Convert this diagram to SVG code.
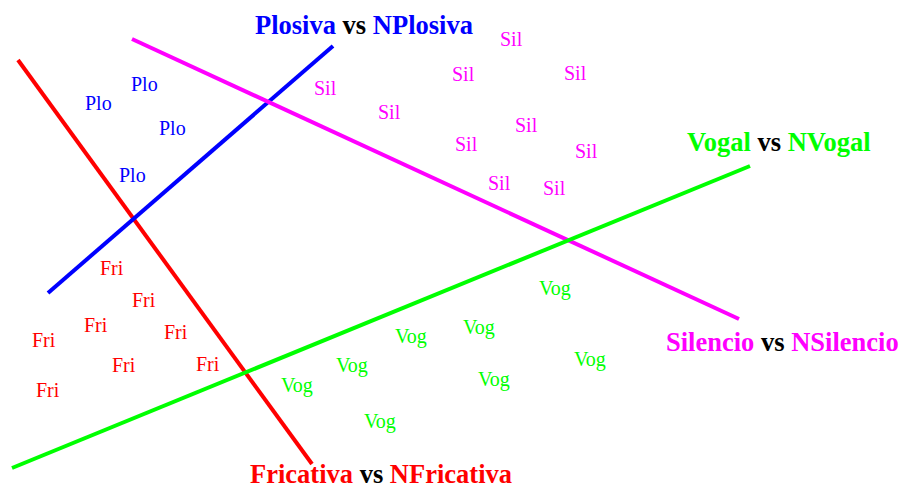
<svg xmlns="http://www.w3.org/2000/svg" width="899" height="486" viewBox="0 0 899 486">
  <style>
    text { font-family: "Liberation Serif", "Times New Roman", serif; }
    .pt { font-size: 20px; }
    .title { font-size: 26.5px; font-weight: bold; }
    .div { fill: none; stroke-width: 4; }
    .fri { fill: #ff0000; }
    .plo { fill: #0000ff; }
    .sil { fill: #ff00ff; }
    .vog { fill: #00ff00; }
    .k { fill: #000000; }
  </style>
  <rect width="899" height="486" fill="#ffffff"/>

  <!-- decision boundaries -->
  <g id="boundaries">
    <line id="line-fricativa" class="div" stroke="#ff0000" x1="18" y1="60" x2="312" y2="464"/>
    <line id="line-plosiva" class="div" stroke="#0000ff" x1="48" y1="293" x2="333" y2="46"/>
    <line id="line-silencio" class="div" stroke="#ff00ff" x1="132" y1="39" x2="739" y2="319"/>
    <line id="line-vogal" class="div" stroke="#00ff00" x1="12" y1="468" x2="750" y2="166"/>
  </g>

  <!-- boundary labels -->
  <g id="title-plosiva" class="title">
    <text x="255" y="34"><tspan class="plo">Plosiva</tspan><tspan class="k"> vs </tspan><tspan class="plo">NPlosiva</tspan></text>
  </g>
  <g id="title-vogal" class="title">
    <text x="687" y="151"><tspan class="vog">Vogal</tspan><tspan class="k"> vs </tspan><tspan class="vog">NVogal</tspan></text>
  </g>
  <g id="title-silencio" class="title">
    <text x="666" y="351"><tspan class="sil">Silencio</tspan><tspan class="k"> vs </tspan><tspan class="sil">NSilencio</tspan></text>
  </g>
  <g id="title-fricativa" class="title">
    <text x="250" y="483"><tspan class="fri">Fricativa</tspan><tspan class="k"> vs </tspan><tspan class="fri">NFricativa</tspan></text>
  </g>

  <!-- Plosiva samples -->
  <g id="samples-plo" class="pt plo">
    <text x="131" y="91">Plo</text>
    <text x="85" y="110">Plo</text>
    <text x="159" y="135">Plo</text>
    <text x="119" y="182">Plo</text>
  </g>

  <!-- Silencio samples -->
  <g id="samples-sil" class="pt sil">
    <text x="500" y="46">Sil</text>
    <text x="452" y="81">Sil</text>
    <text x="564" y="80">Sil</text>
    <text x="314" y="95">Sil</text>
    <text x="378" y="119">Sil</text>
    <text x="515" y="132">Sil</text>
    <text x="455" y="151">Sil</text>
    <text x="575" y="158">Sil</text>
    <text x="488" y="190">Sil</text>
    <text x="543" y="195">Sil</text>
  </g>

  <!-- Fricativa samples -->
  <g id="samples-fri" class="pt fri">
    <text x="100" y="275">Fri</text>
    <text x="132" y="307">Fri</text>
    <text x="84" y="332">Fri</text>
    <text x="164" y="339">Fri</text>
    <text x="32" y="347">Fri</text>
    <text x="112" y="372">Fri</text>
    <text x="196" y="371">Fri</text>
    <text x="36" y="397">Fri</text>
  </g>

  <!-- Vogal samples -->
  <g id="samples-vog" class="pt vog">
    <text x="539" y="295">Vog</text>
    <text x="463" y="334">Vog</text>
    <text x="395" y="343">Vog</text>
    <text x="574" y="366">Vog</text>
    <text x="336" y="372">Vog</text>
    <text x="478" y="386">Vog</text>
    <text x="281" y="392">Vog</text>
    <text x="364" y="428">Vog</text>
  </g>
</svg>
